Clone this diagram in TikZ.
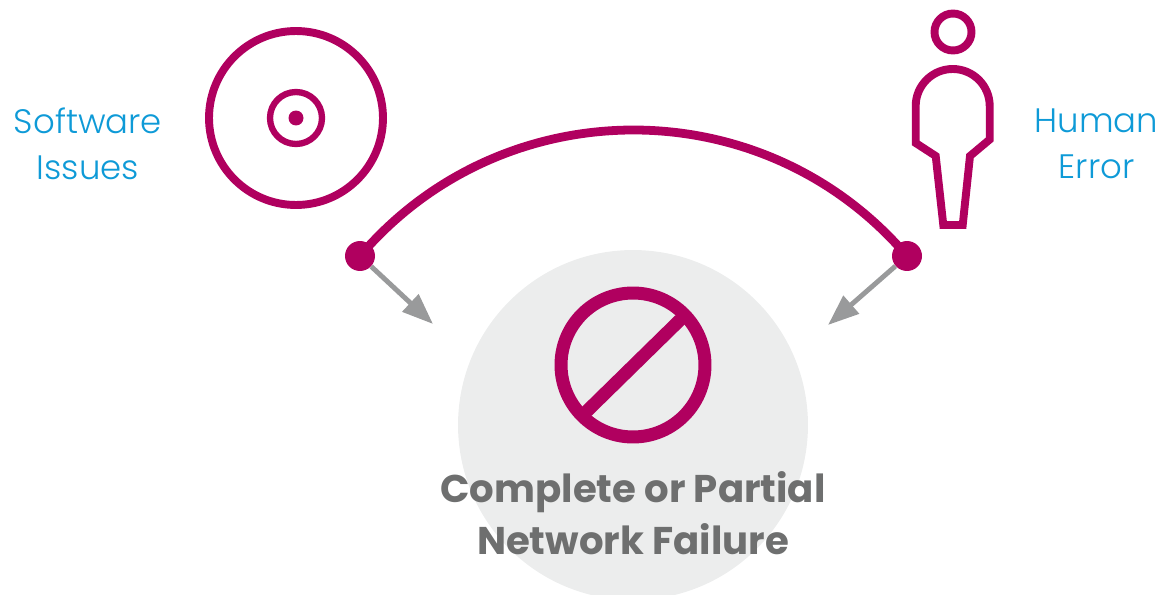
\documentclass[tikz,border=0pt]{standalone}
\usepackage{fontspec}
\setmainfont{Poppins}
\newfontfamily\lightfont{Poppins Light}
\usetikzlibrary{arrows.meta}
\definecolor{berry}{HTML}{B0005F}
\definecolor{skyblue}{HTML}{0E9AD7}
\definecolor{palegrey}{HTML}{ECEDED}
\definecolor{arrowgrey}{HTML}{999A9B}
\definecolor{textgrey}{HTML}{6E6F6F}
\tikzset{
  dot/.style={fill=berry,circle,inner sep=0pt,minimum size=.6cm},
  cause/.style={text=skyblue,font=\lightfont\fontsize{19.3}{26}\selectfont,align=center},
  effect/.style={text=textgrey,font=\bfseries\fontsize{22}{29.5}\selectfont,align=center},
  outline/.style={draw=berry,line width=4.5pt},
  push/.style={draw=arrowgrey,line width=2.8pt,-{Triangle[length=.62cm,width=.46cm]}}
}
\begin{document}
\begin{tikzpicture}[x=.02cm,y=-.02cm]
    \useasboundingbox (0,0) rectangle (1160,595);
    % failure disc
    \begin{scope}
      \clip (0,0) rectangle (1160,595);
      \fill[palegrey] (633,425) circle (3.5cm);
    \end{scope}
    % stop sign
    \draw[outline,line width=7.4pt] (633,365) circle (1.44cm);
    \draw[outline,line width=7.4pt] (585,413) -- (683,317);
    \node[effect] (failure) at (633,513.5) {Complete or Partial\\Network Failure};
    % software disc
    \draw[outline] (296,118) circle (1.74cm);
    \draw[outline,line width=3.6pt] (296,118) circle (.52cm);
    \fill[berry] (296,118) circle (.15cm);
    \node[cause] (software) at (88,144) {Software\\Issues};
    % person
    \draw[outline] (953,32) circle (.37cm);
    \draw[outline] (943.3,225) -- (935.7,156) -- (915.7,143) -- (915.7,106)
      arc (180:360:37) -- (989.7,139.5) -- (970,156) -- (962.7,225) -- cycle;
    \node[cause] (human) at (1096.5,144) {Human\\Error};
    % joined causes
    \node[dot] (left) at (360,256) {};
    \node[dot] (right) at (907,256) {};
    \coordinate (lefttip) at (433,324);
    \coordinate (righttip) at (828,325);
    \draw[push] (left) -- (lefttip);
    \draw[push] (right) -- (righttip);
    \draw[outline,line width=5pt] (left.center) .. controls (503,88) and (764,88) .. (right.center);
\end{tikzpicture}
\end{document}
